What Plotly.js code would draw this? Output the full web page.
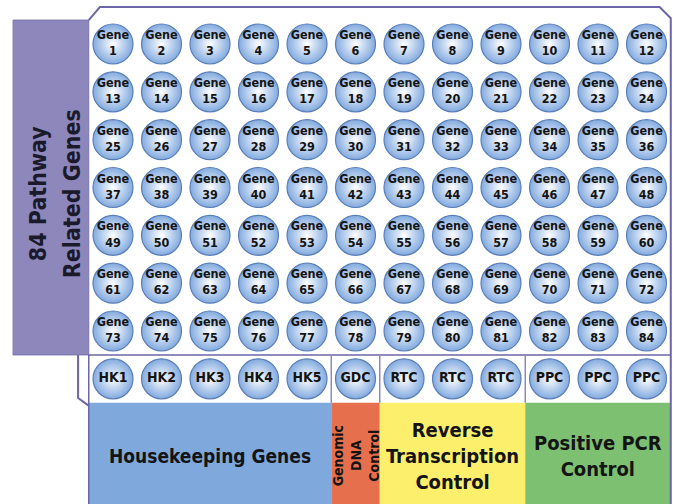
<!DOCTYPE html>
<html>
<head>
<meta charset="utf-8">
<script src="https://cdn.plot.ly/plotly-3.0.1.min.js"></script>
<style>html,body{margin:0;padding:0;background:#fff;}#chart{width:673px;height:504px;}</style>
</head>
<body>
<div id="chart"></div>
<script>
// ---- data ----
const geneNumbers = [
  1,2,3,4,5,6,7,8,9,10,11,12,
  13,14,15,16,17,18,19,20,21,22,23,24,
  25,26,27,28,29,30,31,32,33,34,35,36,
  37,38,39,40,41,42,43,44,45,46,47,48,
  49,50,51,52,53,54,55,56,57,58,59,60,
  61,62,63,64,65,66,67,68,69,70,71,72,
  73,74,75,76,77,78,79,80,81,82,83,84
];
const plateColumns = 12;
const controlLabels = ['HK1','HK2','HK3','HK4','HK5','GDC','RTC','RTC','RTC','PPC','PPC','PPC'];
const groupNames = ['Housekeeping Genes', 'Genomic<br>DNA<br>Control', 'Reverse<br>Transcription<br>Control', 'Positive PCR<br>Control'];
const groupStartCol = [1, 6, 7, 10];
const groupEndCol = [5, 6, 9, 12];
const groupColors = ['#7fa8dd', '#e6704d', '#fcef6c', '#7dc071'];
const groupTextAngle = [0, -90, 0, 0];
const groupFontSize = [19, 14, 20, 20];
const panelLines = ['84 Pathway', 'Related Genes'];

// ---- derived ----
const FONT = 'Liberation Sans Narrow, DejaVu Sans Condensed, Arial Narrow, sans-serif';
const geneRowCount = geneNumbers.length / plateColumns;
const controlRow = geneRowCount + 1;
const gx = [], gy = [], gt = [];
geneNumbers.forEach((n, i) => {
  gx.push(i % plateColumns + 1);
  gy.push(Math.floor(i / plateColumns) + 1);
  gt.push('Gene<br>' + n);
});
const cx = controlLabels.map((_, i) => i + 1);
const cy = controlLabels.map(() => controlRow);

const markerStyle = {
  size: 40,
  color: '#82aadf',
  gradient: {type: 'radial', color: '#ffffff'},
  line: {color: '#5a7eb7', width: 1.2}
};

const traces = [
  {
    type: 'scatter', mode: 'markers+text', x: gx, y: gy, text: gt,
    textposition: 'middle center', marker: markerStyle, hoverinfo: 'skip',
    textfont: {family: FONT, size: 12.5, color: '#141414', weight: 'bold'}
  },
  {
    type: 'scatter', mode: 'markers+text', x: cx, y: cy, text: controlLabels,
    textposition: 'middle center', marker: markerStyle, hoverinfo: 'skip',
    textfont: {family: FONT, size: 14, color: '#141414', weight: 'bold'}
  }
];

const yBottom = 10.62;
const outline = '#6c66a6';
const sepColor = '#8e89bb';
const shapes = [];
// group colour boxes
groupNames.forEach((g, i) => {
  shapes.push({type: 'rect', xref: 'x', yref: 'y', layer: 'below',
    x0: groupStartCol[i] - 0.5, x1: groupEndCol[i] + 0.5,
    y0: controlRow + 0.5, y1: yBottom + 0.5,
    fillcolor: groupColors[i], line: {width: 0}});
});
// left purple panel
shapes.push({type: 'rect', xref: 'x', yref: 'y', layer: 'below',
  x0: -1.06, x1: 0.5, y0: 0.5, y1: geneRowCount + 0.5,
  fillcolor: '#8d87bc', line: {color: '#7a74b0', width: 1}});
// plate outline
shapes.push({type: 'path', xref: 'x', yref: 'y', layer: 'above',
  path: 'M 0.5 0.5 L 0.73 0.226 L 12.27 0.226 L 12.5 0.46 L 12.5 ' + (yBottom + 0.5),
  line: {color: outline, width: 2}});
// line below gene rows
shapes.push({type: 'line', xref: 'x', yref: 'y', layer: 'above',
  x0: 0.5, x1: 12.5, y0: geneRowCount + 0.5, y1: geneRowCount + 0.5,
  line: {color: outline, width: 1.5}});
// control row left border
shapes.push({type: 'line', xref: 'x', yref: 'y', layer: 'above',
  x0: 0.5, x1: 0.5, y0: geneRowCount + 0.5, y1: yBottom + 0.5,
  line: {color: outline, width: 1.5}});
// left bracket
shapes.push({type: 'path', xref: 'x', yref: 'y', layer: 'above',
  path: 'M 0.28 ' + (geneRowCount + 0.5) + ' L 0.28 8.4 L 0.5 8.56',
  line: {color: outline, width: 2}});
// separators between groups in control row
groupStartCol.slice(1).forEach(c => {
  shapes.push({type: 'line', xref: 'x', yref: 'y', layer: 'above',
    x0: c - 0.5, x1: c - 0.5, y0: geneRowCount + 0.5, y1: controlRow + 0.5,
    line: {color: sepColor, width: 1.5}});
});

const annotations = groupNames.map((g, i) => ({
  xref: 'x', yref: 'y', x: (groupStartCol[i] + groupEndCol[i]) / 2,
  y: (controlRow + 0.5 + yBottom) / 2 + 0.05,
  text: g, showarrow: false, textangle: groupTextAngle[i],
  font: {family: FONT, size: groupFontSize[i], color: '#141414', weight: 'bold'}
}));
const panelCenter = (-1.06 + 0.5) / 2;
panelLines.forEach((t, i) => {
  annotations.push({
    xref: 'x', yref: 'y', x: panelCenter, xshift: (i - 0.5) * 34 + 4,
    y: (geneRowCount + 1) / 2 + 0.12,
    text: t, showarrow: false, textangle: -90,
    font: {family: FONT, size: 23, color: '#1a1a2a', weight: 'bold'}
  });
});

const layout = {
  width: 673, height: 504,
  margin: {l: 0, r: 0, t: 0, b: 0, pad: 0},
  paper_bgcolor: '#ffffff', plot_bgcolor: '#ffffff',
  showlegend: false,
  xaxis: {range: [-1.3299, 12.546], visible: false, fixedrange: true},
  yaxis: {range: [10.617, 0.0799], visible: false, fixedrange: true},
  shapes: shapes, annotations: annotations
};

Plotly.newPlot('chart', traces, layout, {displayModeBar: false, staticPlot: true});
</script>
</body>
</html>
